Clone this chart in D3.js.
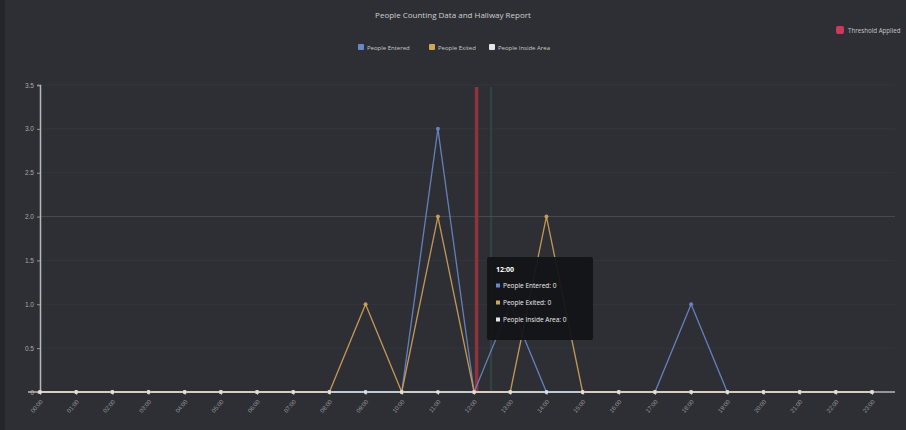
<!DOCTYPE html>
<html><head><meta charset="utf-8">
<script src="https://cdn.jsdelivr.net/npm/d3@7"></script>
<style>
html,body{margin:0;padding:0;background:#2d2f35;}
svg{display:block;font-family:"Open Sans","DejaVu Sans",sans-serif;}
</style></head>
<body><svg id="c" width="906" height="430"></svg>
<script>
const title = "People Counting Data and Hallway Report";
const categories = ["00:00","01:00","02:00","03:00","04:00","05:00","06:00","07:00","08:00","09:00","10:00","11:00","12:00","13:00","14:00","15:00","16:00","17:00","18:00","19:00","20:00","21:00","22:00","23:00"];
const seriesNames = ["People Entered","People Exited","People Inside Area"];
const entered = [0,0,0,0,0,0,0,0,0,0,0,3,0,1,0,0,0,0,1,0,0,0,0,0];
const exited  = [0,0,0,0,0,0,0,0,0,1,0,2,0,0,2,0,0,0,0,0,0,0,0,0];
const inside  = [0,0,0,0,0,0,0,0,0,0,0,0,0,0,0,0,0,0,0,0,0,0,0,0];
const yTicks = [0,0.5,1.0,1.5,2.0,2.5,3.0,3.5];
const colors = ["#6a88c6","#d2a458","#e6e6e6"];
const markerIndex = 12;
const thresholdLabel = "Threshold Applied";

const svg = d3.select("#c");
svg.append("rect").attr("x",0).attr("y",0).attr("width",5).attr("height",430).attr("fill","#25262b");

const x = d3.scalePoint().domain(d3.range(categories.length)).range([40,872]);
const y = d3.scaleLinear().domain([0,3.5]).range([392,85]);

// grid
svg.append("g").selectAll("line").data(yTicks.slice(1)).join("line")
  .attr("x1",40).attr("x2",895).attr("y1",d=>y(d)).attr("y2",d=>y(d))
  .attr("stroke", d=>d===2?"#474a52":"#34373e").attr("stroke-width",1);

// title
svg.append("text").attr("x",453).attr("y",18).attr("text-anchor","middle")
  .attr("fill","#d0d0d0").attr("font-size",8).text(title);

// legend
const legX = [358,429,489];
const lg = svg.append("g");
seriesNames.forEach((n,i)=>{
  lg.append("rect").attr("x",legX[i]).attr("y",44).attr("width",6).attr("height",6).attr("rx",1).attr("fill",colors[i]);
  lg.append("text").attr("x",legX[i]+9).attr("y",49.5).attr("fill","#c8c8c8").attr("font-size",6).text(n);
});
// top-right legend
svg.append("rect").attr("x",836).attr("y",26).attr("width",8).attr("height",8).attr("rx",2).attr("fill","#d2365a");
svg.append("text").attr("x",848).attr("y",33).attr("fill","#c8c8c8").attr("font-size",6.2).text(thresholdLabel);

// y axis
const ya = svg.append("g").attr("transform","translate(40,0)")
  .call(d3.axisLeft(y).tickValues(yTicks).tickFormat(d=>d===0?"0":d3.format(".1f")(d)).tickSize(3));
ya.select(".domain").attr("stroke","#b8b8b8").attr("stroke-width",1.5);
ya.selectAll(".tick line").attr("stroke","#999");
ya.selectAll("text").attr("fill","#aaa").attr("font-size",6.5);

// x axis
const xa = svg.append("g").attr("transform","translate(0,392)")
  .call(d3.axisBottom(x).tickFormat(i=>categories[i]).tickSize(3));
xa.select(".domain").attr("d","M28,0H895").attr("stroke","#b8b8b8").attr("stroke-width",1.5);
xa.selectAll(".tick line").attr("stroke","#999");
xa.selectAll("text").attr("fill","#999").attr("font-size",6)
  .attr("text-anchor","end").attr("dy",0).attr("dx",0)
  .attr("transform","translate(-2,6) rotate(-50)");

// marker lines
svg.append("line").attr("x1",x(markerIndex)+2.5).attr("x2",x(markerIndex)+2.5).attr("y1",87).attr("y2",392)
  .attr("stroke","#a0343a").attr("stroke-width",3.5).attr("opacity",0.85);
svg.append("line").attr("x1",x(markerIndex)+17).attr("x2",x(markerIndex)+17).attr("y1",87).attr("y2",392)
  .attr("stroke","#3f6b55").attr("stroke-width",2).attr("opacity",0.35);

// lines
const data = [entered, exited, inside];
const line = d3.line().x((d,i)=>x(i)).y(d=>y(d));
data.forEach((s,k)=>{
  svg.append("path").datum(s).attr("d",line).attr("fill","none")
    .attr("stroke",colors[k]).attr("stroke-width",1.3).attr("opacity",0.9);
});
data.forEach((s,k)=>{
  svg.append("g").selectAll("circle").data(s).join("circle")
    .attr("cx",(d,i)=>x(i)).attr("cy",d=>y(d)).attr("r",2)
    .attr("fill",colors[k]).attr("opacity",0.9);
});

// tooltip
const tx = 487, ty = 257;
const tt = svg.append("g");
tt.append("rect").attr("x",tx).attr("y",ty).attr("width",106).attr("height",83).attr("rx",2).attr("fill","#131418").attr("opacity",0.95);
tt.append("text").attr("x",tx+9).attr("y",ty+15).attr("fill","#fff").attr("font-size",7).attr("font-weight","bold").text(categories[markerIndex]);
seriesNames.forEach((n,i)=>{
  const yy = ty+31+i*17;
  tt.append("rect").attr("x",tx+9).attr("y",yy-4.5).attr("width",4).attr("height",4).attr("fill",colors[i]);
  tt.append("text").attr("x",tx+16).attr("y",yy).attr("fill","#eee").attr("font-size",6.5)
    .text(n+": "+data[i][markerIndex]);
});
</script>
</body></html>
